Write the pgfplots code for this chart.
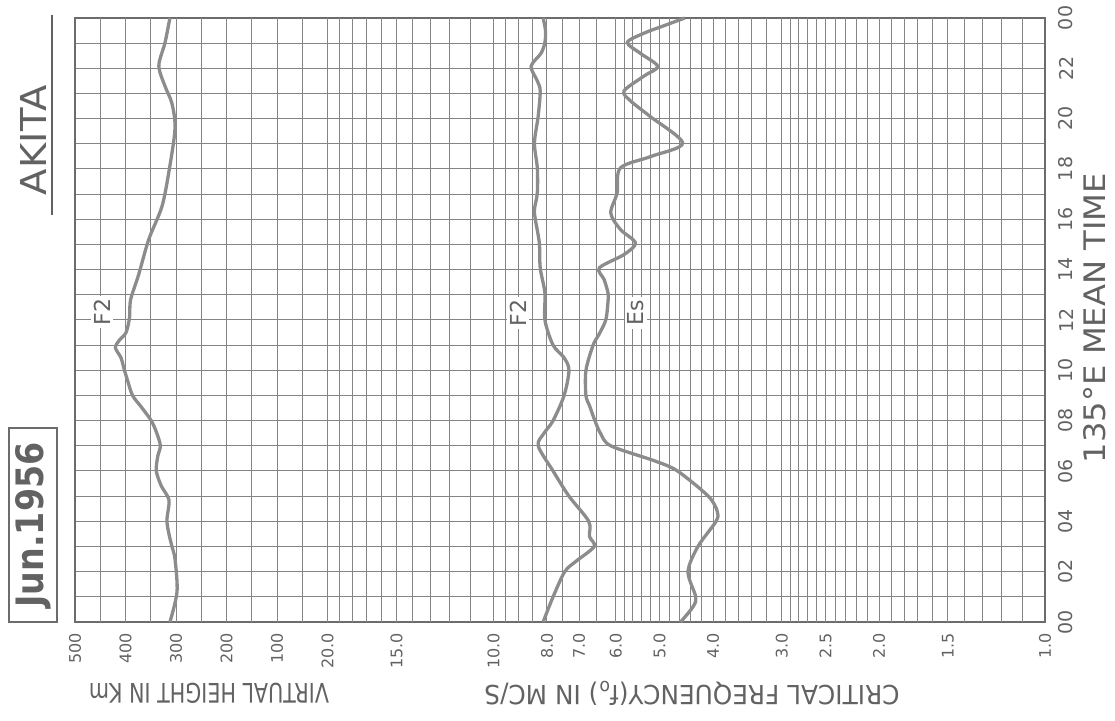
\documentclass[border=0pt]{standalone}
\usepackage{pgfplots}
\usepackage{pgfplotstable}
\pgfplotsset{compat=1.18}
\usepackage{fontspec}
\setmainfont{DejaVu Sans}
\usepackage{graphicx}
\definecolor{gridc}{HTML}{858585}
\definecolor{bordc}{HTML}{6C6C6C}
\definecolor{curvec}{HTML}{8C8C8C}
\definecolor{textc}{HTML}{626262}

% frequency tick label: value/label
\def\flab#1/#2\relax{\node[rotate=90,anchor=east,text=textc,font=\fontsize{16}{16}\selectfont,inner sep=0pt] at ([yshift=-11pt]axis cs:{ln(#1)/2.302585},0) {#2};}
% height tick label
\def\hlab#1\relax{\node[rotate=90,anchor=east,text=textc,font=\fontsize{16}{16}\selectfont,inner sep=0pt] at ([yshift=-11pt]axis cs:{1.30103+0.000916*#1},0) {#1};}
% time tick label
\def\tlab#1/#2\relax{\node[rotate=90,text=textc,font=\fontsize{19}{19}\selectfont,inner sep=0pt] at ([xshift=21pt]axis cs:0,#1) {#2};}

\pgfplotstableread{
t f
0 312
1.2 298
2.5 302
3.0 308
3.5 314
4.05 318
4.85 314
5.4 329
6.0 339
6.6 336
7.0 331
7.5 338
8.0 349
8.55 369
9.0 386
9.6 396
10.0 402
10.5 409
10.9 420
11.2 412
11.5 399
12.1 392
12.8 390
13.8 374
15.2 354
16.5 328
17.9 314
19.6 302
20.6 308
21.3 322
22.1 334
23.0 322
23.8 314
24 312
}\hFtwo

\pgfplotstableread{
t f
0 8.13
1 7.8
2 7.43
2.4 7.1
3 6.57
3.4 6.7
4 6.72
5 7.3
6 7.8
7 8.3
7.5 8.1
8 7.8
9 7.45
10 7.3
10.5 7.45
11 7.8
12 8.07
13.07 8.07
14.07 8.23
15.06 8.26
16 8.4
16.4 8.43
17.05 8.33
18.04 8.33
19.03 8.43
20.1 8.3
21.1 8.23
21.5 8.33
22.08 8.55
22.6 8.2
23.03 8.07
23.5 8.05
24 8.13
}\foFtwo

\pgfplotstableread{
t f
0 4.58
0.6 4.35
1 4.3
2 4.44
3 4.26
4 3.95
4.4 3.93
5 4.08
6 4.64
6.4 5.1
7 6.13
7.5 6.4
8 6.55
8.6 6.7
9 6.8
10 6.8
11 6.6
11.4 6.45
12 6.26
12.76 6.2
13.07 6.2
13.6 6.3
14.07 6.43
14.6 5.8
15.06 5.53
15.6 5.89
16.25 6.13
17.05 5.97
18.04 5.89
18.5 5.18
19.03 4.54
20.1 5.21
20.7 5.64
21.1 5.8
21.7 5.33
22.08 5.04
22.6 5.42
23.03 5.72
23.4 5.33
23.7 4.9
24 4.5
}\foEs

\begin{document}
\begin{tikzpicture}[x=1pt,y=1pt]
\useasboundingbox (0,0) rectangle (1115,720);
\begin{axis}[
  at={(75pt,98pt)}, anchor=south west,
  width=970pt, height=604pt, scale only axis,
  xmin=0, xmax=1.75903, ymin=0, ymax=24, x dir=reverse,
  xtick=\empty, ytick={0,1,...,24}, yticklabels={}, major tick length=0pt,
  ymajorgrids, grid style={gridc, line width=1pt},
  axis line style={bordc, line width=2.2pt},
  clip=false,
]
% vertical grid: frequencies
\pgfplotsinvokeforeach{1.1,1.2,1.3,1.4,1.5,1.6,1.7,1.8,1.9,2,2.1,2.2,2.3,2.4,2.5,2.6,2.7,2.8,2.9,3,3.2,3.4,3.6,3.8,4,4.2,4.4,4.6,4.8,5,5.2,5.4,5.6,5.8,6,6.5,7,7.5,8,8.5,9,9.5,10,11,12,13,14,15,16,17,18,19,20}{
  \draw[gridc, line width=1pt] (axis cs:{ln(#1)/2.302585},0) -- (axis cs:{ln(#1)/2.302585},24);
}
% vertical grid: heights
\pgfplotsinvokeforeach{50,100,150,200,250,300,350,400,450}{
  \draw[gridc, line width=1pt] (axis cs:{1.30103+0.000916*#1},0) -- (axis cs:{1.30103+0.000916*#1},24);
}
% curves
\addplot[curvec, line width=3.3pt, smooth, tension=0.5] table[x expr={1.30103+0.000916*\thisrow{f}}, y=t] {\hFtwo};
\addplot[curvec, line width=3.3pt, smooth, tension=0.5] table[x expr={ln(\thisrow{f})/2.302585}, y=t] {\foFtwo};
\addplot[curvec, line width=3.3pt, smooth, tension=0.5] table[x expr={ln(\thisrow{f})/2.302585}, y=t] {\foEs};
% tick labels
\pgfplotsinvokeforeach{20/20.0,15/15.0,10/10.0,8/8.0,7/7.0,6/6.0,5/5.0,4/4.0,3/3.0,2.5/2.5,2/2.0,1.5/1.5,1/1.0}{\flab#1\relax}
\pgfplotsinvokeforeach{100,200,300,400,500}{\hlab#1\relax}
\pgfplotsinvokeforeach{0/00,2/02,4/04,6/06,8/08,10/10,12/12,14/14,16/16,18/18,20/20,22/22,24/00}{\tlab#1\relax}
\end{axis}
% in-plot labels
\node[rotate=90, fill=white, text=textc, inner sep=3pt, font=\fontsize{22}{22}\selectfont] at (102,408) {F2};
\node[rotate=90, fill=white, text=textc, inner sep=3pt, font=\fontsize{22}{22}\selectfont] at (518,407) {F2};
\node[rotate=90, fill=white, text=textc, inner sep=3pt, font=\fontsize{22}{22}\selectfont] at (636,407) {Es};
% titles
\node[rotate=90, text=textc, inner sep=0pt] at (33,580) {\resizebox{110pt}{26pt}{AKITA}};
\draw[textc, line width=2pt] (52,705) -- (52,505);
\draw[bordc, line width=2.5pt] (9,98) rectangle (57,292);
\node[rotate=90, text=textc, inner sep=0pt] at (33,195) {\resizebox{165pt}{28pt}{\bfseries Jun.1956}};
\node[rotate=90, text=textc, inner sep=0pt] at (1095,402) {\resizebox{290pt}{22pt}{135°E MEAN TIME}};
\node[rotate=180, text=textc, inner sep=0pt] at (209,27) {\resizebox{240pt}{20pt}{VIRTUAL HEIGHT IN Km}};
\node[rotate=180, text=textc, inner sep=0pt] at (692,27) {\resizebox{415pt}{20pt}{CRITICAL FREQUENCY(f\textsubscript{o}) IN MC/S}};
\end{tikzpicture}
\end{document}
